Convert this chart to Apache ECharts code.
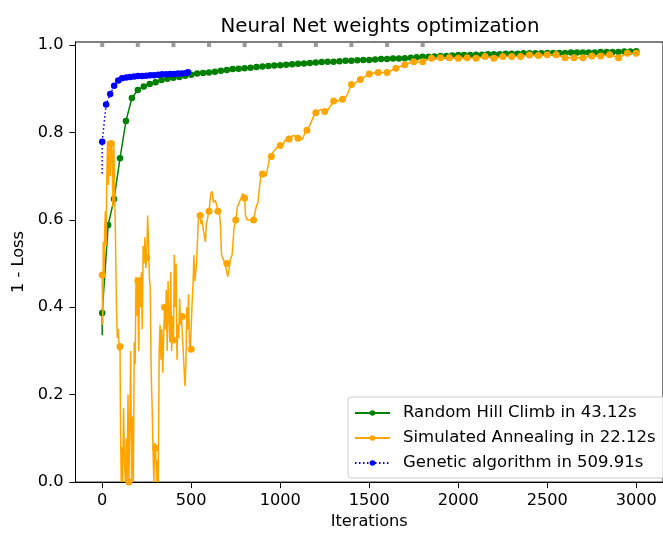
<!DOCTYPE html>
<html>
<head>
<meta charset="utf-8">
<script src="https://cdn.jsdelivr.net/npm/echarts@6/dist/echarts.min.js"></script>
<style>html,body{margin:0;padding:0;background:#fff;}#c{width:663px;height:535px;}</style>
</head>
<body>
<div id="c"></div>
<script>
// ---- data ----
const xTicks = [0, 500, 1000, 1500, 2000, 2500, 3000];
const yTicks = [0, 0.2, 0.4, 0.6, 0.8, 1.0];

// Random Hill Climb (markers every 1/90 of 3000 iterations)
const rhcStart = 0.336;
const rhcFit = [0.387,0.588,0.648,0.741,0.826,0.879,0.897,0.905,0.911,0.915,
  0.920,0.923,0.925,0.927,0.930,0.932,0.935,0.936,0.937,0.939,
  0.941,0.943,0.945,0.946,0.947,0.948,0.950,0.951,0.952,0.953,
  0.954,0.955,0.956,0.957,0.958,0.959,0.960,0.961,0.962,0.962,
  0.963,0.964,0.964,0.965,0.966,0.966,0.967,0.968,0.968,0.969,
  0.969,0.970,0.971,0.972,0.973,0.973,0.974,0.975,0.975,0.976,
  0.977,0.977,0.977,0.978,0.978,0.979,0.979,0.979,0.980,0.980,
  0.980,0.981,0.981,0.981,0.981,0.982,0.982,0.982,0.982,0.983,
  0.983,0.983,0.983,0.983,0.984,0.984,0.984,0.984,0.985,0.985,0.986];

// Simulated Annealing
const saIter = [0,3,6,10,14,18,22,26,30,35,40,45,50,55,60,65,70,75,80,85,90,95,100,103,107,110,115,120,125,130,135,140,145,150,155,160,165,170,175,180,185,190,195,200,205,210,215,220,225,230,235,240,245,250,255,260,265,270,275,280,285,290,295,300,305,310,315,320,325,330,335,340,345,350,355,360,365,370,375,380,385,390,395,400,405,410,415,420,425,430,435,440,445,450,455,460,465,470,475,480,485,490,495,500,505,510,515,520,530,540,550,555,560,570,575,580,585,590,600,610,617,625,635,645,650,660,665,670,680,690,700,705,710,720,730,740,750,760,770,780,790,800,805,815,830,840,850,855,865,875,885,895,900,910,920,930,940,950,960,970,980,990,1000,1015,1030,1040,1050,1060,1075,1090,1100,1110,1125,1140,1150,1165,1180,1190,1200,1215,1230,1240,1250,1265,1280,1290,1300,1320,1340,1350,1365,1380,1390,1400,1420,1435,1450,1475,1500,1525,1550,1575,1600,1625,1650,1675,1700,1725,1750,1775,1800,1825,1850,1900,1950,2000,2050,2100,2150,2200,2250,2300,2350,2400,2450,2500,2550,2600,2650,2700,2750,2800,2850,2900,2950,3000];
const saFit = [0.474,0.36,0.55,0.47,0.58,0.62,0.54,0.70,0.78,0.68,0.77,0.70,0.775,0.76,0.63,0.78,0.66,0.55,0.40,0.33,0.35,0.30,0.31,0.12,0.0,0.08,0.0,0.17,0.05,0.0,0.10,0.0,0.20,0.0,0.14,0.30,0.0,0.15,0.0,0.32,0.27,0.47,0.38,0.46,0.30,0.47,0.40,0.48,0.35,0.54,0.50,0.56,0.49,0.514,0.61,0.55,0.47,0.44,0.25,0.18,0.08,0.0,0.09,0.078,0.0,0.05,0.0,0.30,0.36,0.28,0.35,0.25,0.33,0.40,0.35,0.44,0.30,0.46,0.38,0.32,0.48,0.30,0.38,0.325,0.52,0.40,0.50,0.28,0.36,0.33,0.42,0.36,0.38,0.379,0.30,0.26,0.22,0.27,0.40,0.35,0.43,0.32,0.30,0.304,0.41,0.45,0.52,0.46,0.50,0.60,0.61,0.59,0.60,0.60,0.56,0.55,0.59,0.60,0.62,0.66,0.665,0.64,0.645,0.63,0.62,0.61,0.58,0.52,0.51,0.50,0.50,0.47,0.48,0.51,0.52,0.58,0.60,0.63,0.63,0.65,0.66,0.65,0.61,0.60,0.60,0.60,0.60,0.61,0.63,0.64,0.68,0.71,0.705,0.71,0.70,0.72,0.74,0.745,0.755,0.76,0.765,0.77,0.77,0.77,0.785,0.78,0.785,0.79,0.793,0.79,0.787,0.785,0.785,0.80,0.805,0.815,0.83,0.84,0.845,0.85,0.853,0.85,0.848,0.85,0.86,0.865,0.872,0.872,0.875,0.876,0.878,0.89,0.90,0.91,0.912,0.918,0.921,0.928,0.934,0.936,0.937,0.937,0.937,0.942,0.947,0.951,0.955,0.959,0.962,0.962,0.962,0.966,0.970,0.971,0.971,0.970,0.971,0.970,0.974,0.970,0.974,0.974,0.974,0.977,0.976,0.978,0.978,0.971,0.971,0.971,0.975,0.975,0.978,0.971,0.981,0.981];

// Genetic algorithm
const gaStart = 0.706;
const gaIter = [0,22,45,67,90,112,135,157,180,202,225,247,270,292,315,337,360,382,405,427,450,472,482];
const gaFit = [0.779,0.864,0.888,0.907,0.919,0.924,0.926,0.927,0.928,0.929,0.929,0.930,0.931,0.931,0.932,0.933,0.933,0.934,0.934,0.935,0.935,0.936,0.938];

// grey square markers along the top
const greyIter = [0,200,400,600,800,1000,1200,1400,1600,1800];
const greyVal = [1,1,1,1,1,1,1,1,1,1];

const names = ['Random Hill Climb in 43.12s','Simulated Annealing in 22.12s','Genetic algorithm in 509.91s'];

// ---- build series data ----
const rhcData = [{value:[0, rhcStart], symbolSize:0}];
rhcFit.forEach((v,i)=>rhcData.push([i*3000/90, v]));
const saData = saIter.map((x,i)=>({value:[x, saFit[i]], symbolSize: (x % 50 === 0) ? 7 : 0}));
const gaData = [{value:[0, gaStart], symbolSize:0}];
gaIter.forEach((x,i)=>gaData.push([x, gaFit[i]]));
const greyData = greyIter.map((x,i)=>[x, greyVal[i]]);

const FONT = 'DejaVu Sans';
const TICKF = 16.2;
const chart = echarts.init(document.getElementById('c'), null, {renderer:'canvas'});
chart.setOption({
  animation:false,
  backgroundColor:'#ffffff',
  textStyle:{fontFamily:FONT},
  title:{text:'Neural Net weights optimization', left:375, top:12, textAlign:'center',
    textStyle:{fontFamily:FONT, fontSize:19.8, fontWeight:'normal', color:'#000'}},
  grid:{left:75.5, top:42, width:598.4, height:445, show:true, borderColor:'#000', borderWidth:1, backgroundColor:'transparent'},
  legend:{
    data:names, orient:'vertical', left:348, top:397,
    itemWidth:35, itemHeight:7, itemGap:7,
    padding:[7,10,6,6],
    backgroundColor:'rgba(255,255,255,0.8)', borderColor:'#cccccc', borderWidth:1, borderRadius:3,
    textStyle:{fontFamily:FONT, fontSize:16.5, color:'#000', padding:[0,0,0,8], lineHeight:18}
  },
  xAxis:{type:'value', min:-150, max:3150, name:'Iterations', nameLocation:'middle', nameGap:31,
    nameTextStyle:{fontFamily:FONT, fontSize:TICKF, color:'#000'},
    axisLine:{show:true, onZero:false, lineStyle:{color:'#000', width:1}},
    axisTick:{show:true, length:6, lineStyle:{color:'#000'}, customValues:xTicks},
    axisLabel:{margin:11, fontFamily:FONT, fontSize:TICKF, color:'#000', customValues:xTicks,
      formatter:v=>String(v)},
    splitLine:{show:false}},
  yAxis:{type:'value', min:0, max:1.007, name:'1 - Loss', nameLocation:'middle', nameGap:45,
    nameTextStyle:{fontFamily:FONT, fontSize:TICKF, color:'#000'},
    axisLine:{show:true, onZero:false, lineStyle:{color:'#000', width:1}},
    axisTick:{show:true, length:6, lineStyle:{color:'#000'}, customValues:yTicks},
    axisLabel:{margin:12, fontFamily:FONT, fontSize:TICKF, color:'#000', customValues:yTicks,
      formatter:v=>v.toFixed(1)},
    splitLine:{show:false}},
  series:[
    {name:names[0], type:'line', data:rhcData, symbol:'circle', symbolSize:6.5, showSymbol:true,
      itemStyle:{color:'#008000'}, lineStyle:{color:'#008000', width:1.5}, z:2},
    {name:names[1], type:'line', data:saData, symbol:'circle', symbolSize:7, showSymbol:true,
      itemStyle:{color:'#FFA500'}, lineStyle:{color:'#FFA500', width:1.5}, z:3},
    {name:names[2], type:'line', data:gaData, symbol:'circle', symbolSize:6.5, showSymbol:true,
      itemStyle:{color:'#0000FF'}, lineStyle:{color:'#0000FF', width:1.5, type:[1.5,2.5]}, z:4},
    {name:'grey', type:'scatter', data:greyData, symbol:'rect', symbolSize:4,
      itemStyle:{color:'#808080'}, z:5}
  ]
});
</script>
</body>
</html>
